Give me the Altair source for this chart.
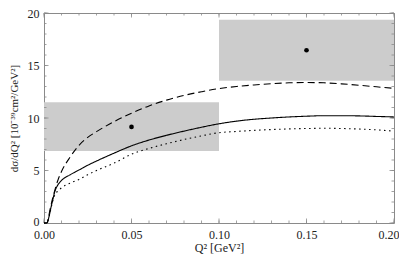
import altair as alt
import pandas as pd

# ---- data ----
q2 = [0.0, 0.0015, 0.002, 0.003, 0.004, 0.005, 0.006, 0.007, 0.008, 0.01, 0.015, 0.02, 0.025, 0.03, 0.04,
      0.05, 0.06, 0.07, 0.08, 0.09, 0.10, 0.11, 0.12, 0.13, 0.14, 0.15, 0.16,
      0.17, 0.18, 0.19, 0.20]
solid = [0.0, 0.0, 0.1, 0.7, 1.5, 2.2, 2.9, 3.35, 3.65, 4.05, 4.6, 5.05, 5.5, 5.9, 6.65,
         7.35, 7.9, 8.35, 8.75, 9.12, 9.45, 9.7, 9.88, 10.0, 10.1, 10.17, 10.22,
         10.22, 10.2, 10.15, 10.1]
dotted = [0.0, 0.0, 0.1, 0.7, 1.4, 2.1, 2.6, 2.9, 3.05, 3.35, 3.8, 4.15, 4.6, 5.0, 5.7,
          6.55, 7.1, 7.55, 7.95, 8.3, 8.6, 8.72, 8.82, 8.9, 8.96, 9.0, 9.02,
          9.0, 8.95, 8.87, 8.75]
dashed = [0.0, 0.0, 0.1, 0.9, 1.7, 2.4, 3.0, 3.6, 4.1, 4.9, 6.3, 7.4, 8.15, 8.7, 9.65,
          10.45, 11.15, 11.7, 12.15, 12.5, 12.8, 13.0, 13.15, 13.27, 13.35, 13.38, 13.35,
          13.25, 13.12, 12.97, 12.82]

box_x0 = [0.0, 0.10]
box_x1 = [0.10, 0.20]
box_y0 = [6.85, 13.55]
box_y1 = [11.5, 19.35]
pt_x = [0.05, 0.15]
pt_y = [9.15, 16.45]

x_major = [0.0, 0.05, 0.10, 0.15, 0.20]
x_minor = [i / 100 for i in range(0, 21)]
y_major = [0, 5, 10, 15, 20]
y_minor = list(range(0, 21))

W, H = 350, 210
FONT = "Liberation Serif"
FRAME = "#8a8a8a"

curves = pd.DataFrame({
    "q2": q2 * 3,
    "val": solid + dotted + dashed,
    "kind": ["solid"] * len(q2) + ["dotted"] * len(q2) + ["dashed"] * len(q2),
})
boxes = pd.DataFrame({"x0": box_x0, "x1": box_x1, "y0": box_y0, "y1": box_y1})
pts = pd.DataFrame({"x": pt_x, "y": pt_y})

xs = alt.Scale(domain=[0, 0.2], nice=False, zero=False)
ys = alt.Scale(domain=[0, 20], nice=False, zero=False)

x_axis = alt.Axis(values=x_major, format=".2f", ticks=False, domain=False, grid=False,
                  labelFlush=False,
                  labelAlign={"condition": {"test": "datum.value >= 0.19", "value": "right"}, "value": "center"},
                  labelOffset={"condition": {"test": "datum.value >= 0.19", "value": 5}, "value": 0},
                  labelFont=FONT, labelFontSize=12, labelColor="#222", labelPadding=6,
                  title="Q² [GeV²]", titleFont=FONT, titleFontSize=12,
                  titleFontWeight="normal", titleColor="#222", titlePadding=2)
y_axis = alt.Axis(values=y_major, ticks=False, domain=False, grid=False, labelFlush=False,
                  labelOffset={"condition": {"test": "datum.value == 0", "value": -2}, "value": 0},
                  labelFont=FONT, labelFontSize=12, labelColor="#222", labelPadding=5,
                  title="dσ/dQ² [10⁻³⁹cm²/GeV²]", titleFont=FONT, titleFontSize=11,
                  titleFontWeight="normal", titleColor="#222", titlePadding=8)

rects = alt.Chart(boxes).mark_rect(color="#cccccc").encode(
    x=alt.X("x0:Q", scale=xs, axis=x_axis),
    x2="x1:Q",
    y=alt.Y("y0:Q", scale=ys, axis=y_axis),
    y2="y1:Q",
)

lines = alt.Chart(curves).mark_line(color="black", strokeWidth=1.1, interpolate="monotone").encode(
    x=alt.X("q2:Q", scale=xs),
    y=alt.Y("val:Q", scale=ys),
    detail="kind:N",
    strokeDash=alt.StrokeDash(
        "kind:N",
        scale=alt.Scale(domain=["solid", "dotted", "dashed"],
                        range=[[1, 0], [1.5, 3.5], [7, 4]]),
        legend=None,
    ),
)

points = alt.Chart(pts).mark_circle(color="black", size=22, opacity=1).encode(
    x=alt.X("x:Q", scale=xs), y=alt.Y("y:Q", scale=ys)
)

def xticks(vals, length):
    d = pd.DataFrame({"t": vals})
    b = alt.Chart(d).mark_rule(color=FRAME, strokeWidth=0.8).encode(
        x=alt.X("t:Q", scale=xs), y=alt.value(H), y2=alt.value(H - length))
    t = alt.Chart(d).mark_rule(color=FRAME, strokeWidth=0.8).encode(
        x=alt.X("t:Q", scale=xs), y=alt.value(0), y2=alt.value(length))
    return [b, t]

def yticks(vals, length):
    d = pd.DataFrame({"t": vals})
    l = alt.Chart(d).mark_rule(color=FRAME, strokeWidth=0.8).encode(
        y=alt.Y("t:Q", scale=ys), x=alt.value(0), x2=alt.value(length))
    r = alt.Chart(d).mark_rule(color=FRAME, strokeWidth=0.8).encode(
        y=alt.Y("t:Q", scale=ys), x=alt.value(W), x2=alt.value(W - length))
    return [l, r]

tick_layers = xticks(x_minor, 2.5) + xticks(x_major, 4.5) + yticks(y_minor, 2.5) + yticks(y_major, 4.5)

chart = alt.layer(rects, *tick_layers, lines, points).properties(
    width=W, height=H,
    autosize=alt.AutoSizeParams(type="none"),
    padding={"left": 36, "top": 5, "right": 5, "bottom": 33},
).configure_view(stroke=FRAME, strokeWidth=1)

chart.save("out.html", embed_options={"renderer": "svg", "actions": False})
